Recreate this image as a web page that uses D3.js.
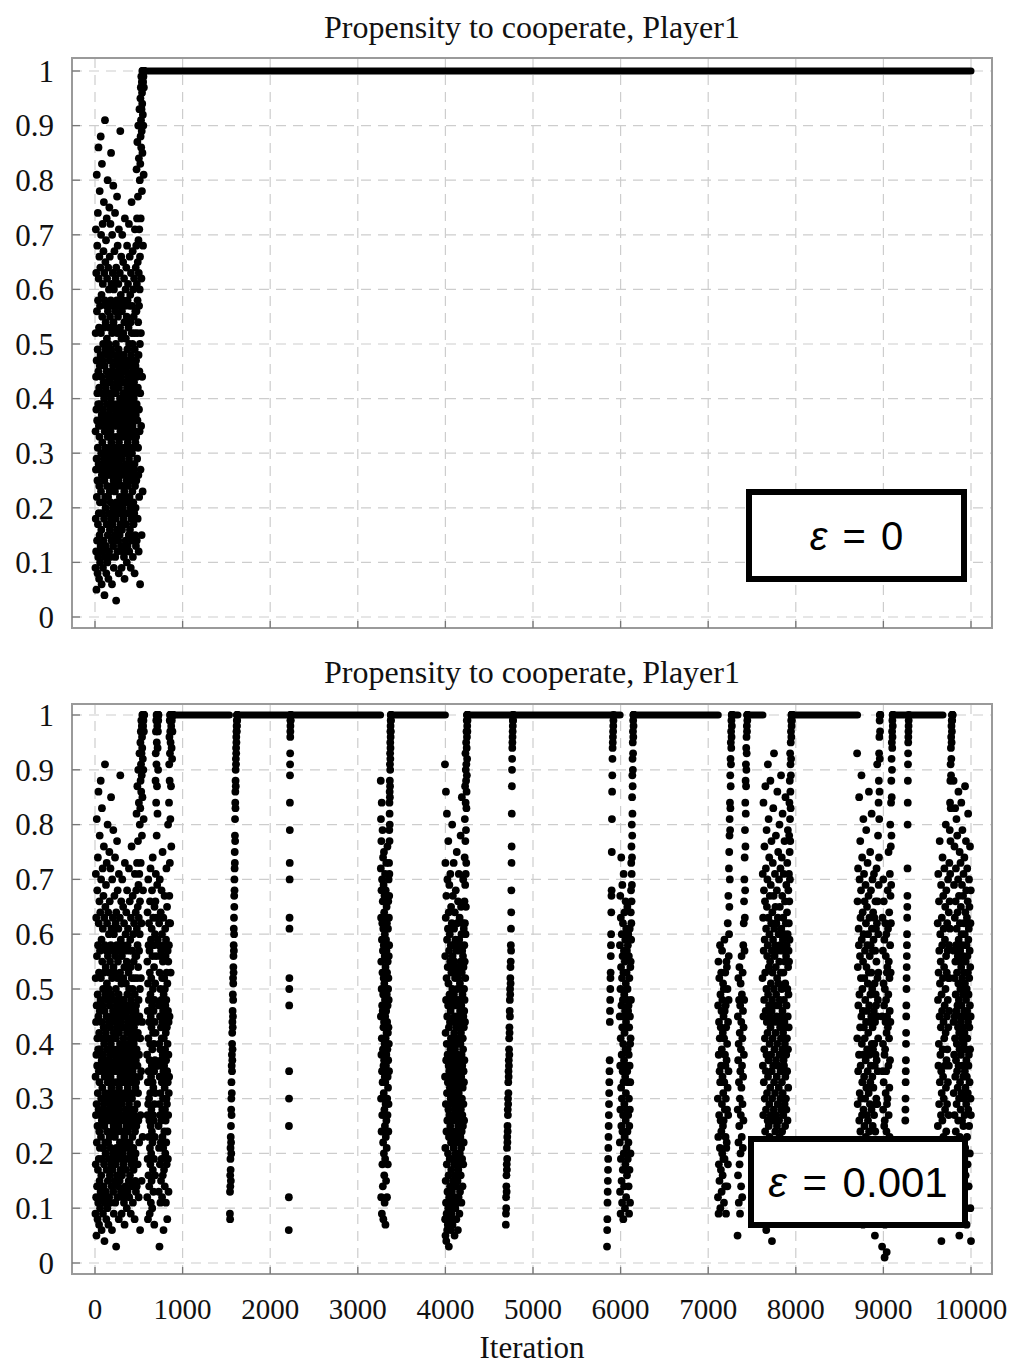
<!DOCTYPE html>
<html>
<head>
<meta charset="utf-8">
<script src="https://cdn.jsdelivr.net/npm/d3@7/dist/d3.min.js"></script>
<style>
  body { margin: 0; background: #fff; }
  svg { display: block; }
</style>
</head>
<body>
<svg id="chart" width="1014" height="1366"></svg>
<script>
// ---------- axis ticks ----------
const xTicks = [0, 1000, 2000, 3000, 4000, 5000, 6000, 7000, 8000, 9000, 10000];
const xTickLabels = ["0", "1000", "2000", "3000", "4000", "5000", "6000", "7000", "8000", "9000", "10000"];
const yTicks = [0, 0.1, 0.2, 0.3, 0.4, 0.5, 0.6, 0.7, 0.8, 0.9, 1];
const yTickLabels = ["0", "0.1", "0.2", "0.3", "0.4", "0.5", "0.6", "0.7", "0.8", "0.9", "1"];

const titleText = "Propensity to cooperate, Player1";
const xAxisTitle = "Iteration";

// ---------- propensity samples (percent), spread evenly over [start, end] iterations ----------
// Learning phase, identical in both runs until the first tremble.
const earlyLearning = [
  9,34,52,18,71,27,44,12,63,38,5,29,47,81,22,56,14,36,68,41,
  25,8,49,31,74,17,58,39,11,45,86,28,62,19,35,53,7,42,24,66,
  33,15,78,46,21,57,10,39,64,27,48,13,88,36,52,23,70,30,16,44,
  59,6,37,26,83,41,19,55,32,12,47,72,28,61,9,38,50,21,35,67,
  14,43,29,76,53,18,40,63,25,4,46,34,58,11,91,31,22,49,65,37,
  20,54,13,42,69,27,36,8,57,45,17,73,30,51,24,62,39,10,48,26,
  80,33,15,56,41,22,64,35,7,50,28,44,19,60,37,12,53,75,31,47,
  23,66,16,38,55,29,43,11,72,34,21,58,40,26,85,18,49,32,61,14,
  45,27,36,6,52,70,24,41,17,57,33,63,20,46,30,13,79,39,54,25,
  42,9,60,35,28,48,19,67,31,15,53,38,23,74,44,11,56,29,37,62,
  18,50,26,41,3,64,33,21,47,36,58,16,43,77,27,52,12,39,24,68,
  35,20,55,30,45,14,61,38,25,49,8,71,32,42,19,57,28,46,36,15,
  63,22,40,53,27,89,34,17,48,31,59,13,44,26,66,37,21,51,9,39,
  29,56,16,43,70,24,47,33,12,58,38,20,45,65,30,52,18,41,27,35,
  48,11,62,36,23,54,40,7,46,31,73,19,57,34,26,43,14,60,38,22,
  51,28,39,17,64,33,45,25,55,10,42,30,68,21,49,37,13,58,32,44,
  24,61,35,19,47,26,53,40,15,36,72,29,50,12,43,57,22,38,66,31,
  16,46,27,59,34,41,20,54,9,37,63,25,48,33,18,44,76,28,52,39,
  30,14,57,42,23,50,35,67,26,11,45,38,60,21,47,31,17,55,40,27,
  43,62,19,36,52,28,8,49,34,71,24,41,15,56,32,46,20,64,37,13,
  47,33,68,25,56,82,39,14,61,44,73,29,52,87,36,58,18,65,42,77,
  31,54,90,26,69,48,12,63,84,38,57,22,71,45,93,34,60,80,50,66,
  6,41,83,95,27,88,73,97,52,91,35,86,99,62,93,15,89,98,78,96,
  44,94,100,85,97,23,99,92,100,68,98,100,90,99,100,81,100,97,100,100
];

// eps = 0.001 run
const tail600to890 = [
  38,12,55,27,64,19,46,33,8,51,29,70,41,16,58,35,23,48,62,30,
  14,44,26,57,37,9,53,21,66,40,31,18,49,72,25,45,11,59,34,20,
  52,28,43,15,61,36,24,68,47,10,39,56,22,33,74,17,50,42,27,63,
  32,13,46,58,26,40,19,54,35,7,48,65,29,44,23,37,60,16,51,31,
  66,88,42,93,71,97,56,84,99,63,91,100,78,95,36,87,100,69,98,100,
  82,94,100,59,97,100,90,99,100,100,
  25,47,13,58,36,21,62,40,29,3,53,34,70,18,45,27,56,39,11,50,
  31,64,22,43,15,57,37,26,48,68,19,41,33,60,12,52,28,44,23,75,
  38,16,55,30,46,21,63,35,6,49,27,41,58,17,36,52,24,45,67,32,
  14,50,28,39,61,20,47,34,56,26,42,11,59,37,22,48,72,30,53,18,
  43,29,65,35,8,51,24,40,57,33,19,46,80,27,55,38,13,44,62,31,
  58,84,34,91,67,96,45,88,99,73,93,100,62,97,81,100,95,53,99,100,
  87,100,98,76,100,100,94,100,99,100,100,92,100,100,97,100,100,100,100,100
];
const dip1600 = [
  9,13,8,16,14,19,21,17,23,15,25,22,28,20,30,33,27,36,31,38,35,40,42,37,44,39,46,43,49,45,
  52,48,51,54,56,53,58,61,57,63,60,67,65,70,68,72,75,73,78,81,77,84,86,83,88,90,87,92,91,94,
  93,96,95,97,98,97,99,98,100,99,100,100
];
const dip2200 = [6,12,25,30,35,47,50,52,61,63,70,73,79,84,89,91,93,96,97,98,99,99,100,100];
const dip3300 = [
  88,72,45,81,30,63,12,55,77,38,68,24,50,84,41,9,59,35,70,47,
  27,62,18,53,79,33,46,66,14,57,39,74,22,49,61,8,43,36,69,52,
  31,58,20,75,44,37,64,16,51,28,67,40,11,56,34,60,25,48,71,19,
  45,33,63,7,54,29,41,68,23,50,36,59,15,46,73,38,26,57,42,65,
  21,49,35,62,12,53,44,30,58,39,76,27,47,34,55,18,42,61,32,50,
  37,66,24,52,43,29,70,48,56,40,63,35,73,58,67,79,71,84,77,82,
  86,80,88,85,91,87,93,90,95,92,97,94,98,96,99,97,100,99,100,100
];
const dip4100 = [
  91,34,8,56,21,73,5,42,15,63,29,86,11,48,37,4,67,24,52,9,
  40,18,82,31,59,6,45,26,70,13,38,54,7,33,61,20,47,10,77,28,
  51,16,36,64,3,43,23,57,12,35,69,27,8,49,19,60,32,44,14,55,
  25,71,39,11,46,30,58,6,41,22,65,34,17,53,9,37,48,26,62,13,
  44,29,80,19,50,35,7,56,24,40,67,15,47,31,58,10,38,54,21,73,
  33,12,49,27,61,42,18,36,55,5,45,28,64,16,39,52,23,35,10,59,
  30,47,20,68,37,14,53,26,43,8,57,32,19,48,75,24,41,11,62,34,
  22,50,38,15,58,29,45,6,40,66,25,52,17,36,44,12,54,31,71,27,
  43,18,59,33,9,48,26,63,37,20,51,13,46,35,57,23,40,30,78,16,
  55,28,42,65,21,34,47,11,60,38,24,53,85,30,44,19,57,36,27,49,
  14,62,32,41,25,56,39,70,18,45,29,54,35,22,61,43,33,50,26,46,
  58,37,66,48,74,55,81,62,44,87,69,52,77,93,60,84,71,90,65,79,
  88,95,73,91,83,97,86,94,99,89,96,100,92,98,100,97,99,100,100,100
];
const dip4750 = [
  7,9,12,10,14,16,13,18,17,21,19,23,22,25,24,28,27,30,29,33,31,35,34,37,36,39,41,38,43,42,
  46,48,45,50,49,52,54,51,55,58,61,57,64,68,73,76,82,87,90,92,94,95,96,97,98,99,99,100,100
];
const dip5900 = [
  3,6,8,11,13,15,17,19,21,23,25,27,29,31,33,35,37,44,46,48,50,52,53,56,58,60,64,67,68,75,
  81,86,89,92,94,95,96,97,98,99,100
];
const dip6100 = [
  45,22,58,13,36,67,28,50,9,41,63,19,54,32,74,25,47,15,38,60,
  30,52,11,43,69,24,56,35,17,48,62,27,40,8,53,33,71,20,45,57,
  37,14,49,29,64,42,23,55,10,46,34,59,18,39,66,26,51,31,44,12,
  61,36,21,53,43,28,57,16,48,35,65,24,50,39,19,58,33,46,27,60,
  22,47,14,38,56,30,9,43,25,52,17,36,61,28,45,11,40,33,54,20,
  41,55,64,48,68,59,73,62,76,66,71,80,69,74,85,78,89,82,92,87,
  95,90,97,93,99,96,100,98,100,100
];
const dip7200 = [
  30,12,47,23,55,9,38,18,44,27,52,15,35,41,21,58,33,10,49,26,
  43,17,36,53,24,46,13,39,29,57,20,48,34,16,42,25,51,31,19,45,
  26,50,11,41,33,59,19,46,28,38,14,53,36,23,47,30,9,43,21,55,
  37,22,54,28,40,14,50,32,62,18,44,27,67,35,48,56,72,60,75,65,
  78,81,70,84,79,89,83,92,87,95,91,97,94,99,96,100,98,100,100,100
];
const dip7400 = [
  5,28,45,16,37,52,22,40,11,33,48,25,54,18,42,30,9,47,35,20,
  51,27,39,14,44,32,56,23,49,36,12,41,29,53,21,46,34,58,26,43,
  62,38,66,48,70,57,74,63,79,68,84,76,88,82,91,87,94,90,96,93,
  98,97,100,99,100,100
];
const dip7800 = [
  52,18,71,36,9,63,27,45,84,14,57,33,68,22,48,39,76,11,59,30,
  41,66,24,53,87,17,46,35,72,28,61,6,50,38,79,21,44,65,31,56,
  13,70,42,26,58,91,34,49,19,63,37,81,25,54,8,47,74,29,60,40,
  23,67,45,16,55,32,88,43,27,69,51,12,38,62,20,77,46,35,57,4,
  48,30,64,18,53,41,73,26,59,36,83,15,44,67,28,50,93,33,61,22,
  39,56,10,47,71,31,58,24,65,42,19,54,78,37,49,27,62,14,45,34,
  68,25,52,40,86,17,57,29,63,44,21,75,36,51,11,60,32,47,70,26,
  55,38,80,23,48,65,16,43,58,30,72,35,9,53,41,89,28,61,45,20,
  50,74,33,57,24,67,39,46,82,31,59,18,42,63,27,53,37,71,22,48,
  36,60,15,44,77,29,55,40,66,25,51,34,85,43,19,62,30,56,38,69,
  28,47,58,21,41,64,35,73,50,26,60,45,79,39,54,32,68,49,57,43,
  62,71,55,78,66,84,59,75,88,70,81,93,77,86,91,83,95,89,97,92,
  99,96,100,98,100,100,99,100,100,100
];
const dip8800 = [
  93,41,17,66,29,54,8,72,35,47,22,61,13,58,38,85,26,49,70,31,
  19,56,43,77,24,63,36,11,52,68,30,45,89,16,59,40,27,74,33,50,
  21,64,46,7,55,38,81,28,60,14,43,71,34,52,25,66,41,18,57,30,
  48,12,69,37,23,62,44,79,32,54,9,46,27,65,39,58,20,73,35,51,
  26,60,42,15,67,31,53,86,24,47,38,63,10,56,29,44,75,33,49,19,
  58,36,68,22,45,53,28,82,40,61,17,50,34,70,43,25,57,39,64,13,
  32,59,14,46,71,27,40,63,18,51,36,5,44,57,24,66,38,49,29,61,
  47,30,55,72,37,21,62,45,91,29,52,66,35,48,78,41,60,53,84,69,
  88,74,93,81,96,86,99,92,100,97,100,100
];
const dip9000 = [
  3,45,22,63,35,14,57,40,28,70,18,51,33,66,9,47,25,59,38,1,
  26,50,7,39,62,19,44,31,56,13,48,35,60,24,42,2,53,29,45,17,
  54,30,68,20,43,61,16,49,36,75,27,55,12,41,64,32,52,23,46,71,
  37,58,80,44,67,53,76,62,84,69,88,78,92,85,95,90,97,94,99,96,
  100,98,100,100
];
const dip9270 = [
  26,28,30,33,35,37,40,42,45,47,50,52,54,56,58,60,63,65,67,72,80,84,88,91,93,95,96,97,98,99,100
];
const dip9700 = [
  62,25,48,14,71,36,53,9,40,66,29,57,18,45,77,33,51,22,60,38,
  12,55,43,27,69,35,4,49,31,63,20,46,58,26,74,39,16,52,34,67,
  23,44,61,30,8,54,41,72,19,47,36,59,28,65,13,50,42,80,32,56,
  24,68,37,15,53,45,29,62,39,21,57,48,33,70,17,43,52,27,64,36,
  58,46,73,52,66,79,61,84,71,88,77,91,83,94,89,96,92,98,95,99,
  97,100,99,100,100,100
];
const final9800 = [
  44,88,31,57,20,69,38,12,52,76,27,45,63,9,41,83,34,55,18,66,
  49,24,72,37,58,15,46,81,29,61,40,10,53,35,78,22,47,64,32,56,
  19,43,70,26,51,86,36,59,14,48,67,30,42,5,55,39,75,23,62,45,
  33,57,11,50,73,28,44,65,38,20,54,84,31,47,60,17,41,69,26,52,
  36,79,22,58,43,13,49,67,34,56,25,71,40,8,53,30,62,46,19,74,
  42,27,60,35,51,87,21,45,64,32,16,55,39,77,48,29,68,37,58,7,
  50,34,63,23,46,72,41,56,18,66,31,53,44,82,28,59,36,49,14,61,
  38,70,25,52,43,65,33,57,20,47,76,39,54,10,62,30,45,68,27,4
];

// Stretches (start, end iteration) where the propensity sits at exactly 1
const fullCoopEps0 = [[560, 10000]];
const fullCoopEps001 = [
  [885, 1535], [1620, 3260], [3380, 4000], [4250, 5995], [6150, 7115],
  [7270, 7340], [7445, 7625], [7955, 8705], [9105, 9680]
];

// Excursions below 1: [start iteration, end iteration, samples]
const excursionsEps0 = [[5, 560, earlyLearning]];
const excursionsEps001 = [
  [5, 560, earlyLearning], [595, 890, tail600to890], [1540, 1625, dip1600],
  [2212, 2235, dip2200], [3262, 3380, dip3300], [3995, 4255, dip4100],
  [4690, 4775, dip4750], [5845, 5920, dip5900], [5990, 6150, dip6100],
  [7110, 7275, dip7200], [7335, 7450, dip7400], [7620, 7960, dip7800],
  [8700, 8965, dip8800], [8985, 9110, dip9000], [9250, 9290, dip9270],
  [9620, 9790, dip9700], [9800, 10000, final9800]
];

// ---------- layout ----------
const frameLeft = 72, frameRight = 992;
const x = d3.scaleLinear().domain([0, 10000]).range([95, 971]);

const panels = [
  { top: 58, bottom: 628, yRange: [617, 71], titleY: 27,
    plateaus: fullCoopEps0, excursions: excursionsEps0,
    eps: "0", box: { x: 749, y: 492, w: 215, h: 87, font: 40 } },
  { top: 704, bottom: 1274, yRange: [1263, 715], titleY: 672,
    plateaus: fullCoopEps001, excursions: excursionsEps001,
    eps: "0.001", box: { x: 751, y: 1139, w: 214, h: 86, font: 42 } }
];

const svg = d3.select("#chart");
const serif = "'Liberation Serif', 'Times New Roman', serif";

panels.forEach((p, pi) => {
  const y = d3.scaleLinear().domain([0, 1]).range(p.yRange);
  const g = svg.append("g").attr("class", "panel-" + pi);

  // dashed grid
  g.append("g").selectAll("line").data(xTicks).join("line")
    .attr("x1", d => x(d)).attr("x2", d => x(d))
    .attr("y1", p.top).attr("y2", p.bottom)
    .attr("stroke", "#cdcdcd").attr("stroke-width", 1.2)
    .attr("stroke-dasharray", "10,7");
  g.append("g").selectAll("line").data(yTicks).join("line")
    .attr("x1", frameLeft).attr("x2", frameRight)
    .attr("y1", d => y(d)).attr("y2", d => y(d))
    .attr("stroke", "#cdcdcd").attr("stroke-width", 1.2)
    .attr("stroke-dasharray", "10,7");

  // stretches of full cooperation
  g.append("g").selectAll("line").data(p.plateaus).join("line")
    .attr("x1", d => x(d[0])).attr("x2", d => x(d[1]))
    .attr("y1", y(1)).attr("y2", y(1))
    .attr("stroke", "#000").attr("stroke-width", 7)
    .attr("stroke-linecap", "round");

  // propensity samples
  const pts = p.excursions.flatMap(([a, b, vals]) =>
    vals.map((v, i) => ({ it: a + (b - a) * i / (vals.length - 1), v: v / 100 })));
  g.append("g").selectAll("circle").data(pts).join("circle")
    .attr("cx", d => x(d.it)).attr("cy", d => y(d.v))
    .attr("r", 3.9).attr("fill", "#000");

  // frame
  g.append("rect")
    .attr("x", frameLeft).attr("y", p.top)
    .attr("width", frameRight - frameLeft).attr("height", p.bottom - p.top)
    .attr("fill", "none").attr("stroke", "#9a9a9a").attr("stroke-width", 2);

  // tick marks
  g.append("g").selectAll("line").data(xTicks).join("line")
    .attr("x1", d => x(d)).attr("x2", d => x(d))
    .attr("y1", p.bottom).attr("y2", p.bottom - 7)
    .attr("stroke", "#777").attr("stroke-width", 1.3);
  g.append("g").selectAll("line").data(yTicks).join("line")
    .attr("x1", frameLeft).attr("x2", frameLeft + 8)
    .attr("y1", d => y(d)).attr("y2", d => y(d))
    .attr("stroke", "#777").attr("stroke-width", 1.3);

  // y tick labels
  g.append("g").selectAll("text").data(yTicks).join("text")
    .attr("x", 54).attr("y", d => y(d))
    .attr("dy", "0.35em").attr("text-anchor", "end")
    .attr("font-family", serif).attr("font-size", 31).attr("fill", "#111")
    .text((d, i) => yTickLabels[i]);

  // title
  g.append("text")
    .attr("x", 532).attr("y", p.titleY).attr("dy", "0.35em")
    .attr("text-anchor", "middle")
    .attr("font-family", serif).attr("font-size", 32).attr("fill", "#111")
    .text(titleText);

  // epsilon label box
  const b = p.box;
  g.append("rect")
    .attr("x", b.x).attr("y", b.y).attr("width", b.w).attr("height", b.h)
    .attr("fill", "#fff").attr("stroke", "#000").attr("stroke-width", 6);
  const t = g.append("text")
    .attr("x", b.x + b.w / 2).attr("y", b.y + b.h / 2).attr("dy", "0.36em")
    .attr("text-anchor", "middle")
    .attr("font-family", "'Liberation Sans', Arial, sans-serif")
    .attr("font-size", b.font).attr("word-spacing", 4).attr("fill", "#000");
  t.append("tspan").attr("font-style", "italic").text("ε");
  t.append("tspan").text(" = " + p.eps);
});

// x tick labels and axis title (bottom panel only)
svg.append("g").selectAll("text").data(xTicks).join("text")
  .attr("x", d => x(d)).attr("y", 1309).attr("dy", "0.35em")
  .attr("text-anchor", "middle")
  .attr("font-family", serif).attr("font-size", 29).attr("fill", "#111")
  .text((d, i) => xTickLabels[i]);
svg.append("text")
  .attr("x", 532).attr("y", 1347).attr("dy", "0.35em")
  .attr("text-anchor", "middle")
  .attr("font-family", serif).attr("font-size", 31).attr("fill", "#111")
  .text(xAxisTitle);
</script>
</body>
</html>
